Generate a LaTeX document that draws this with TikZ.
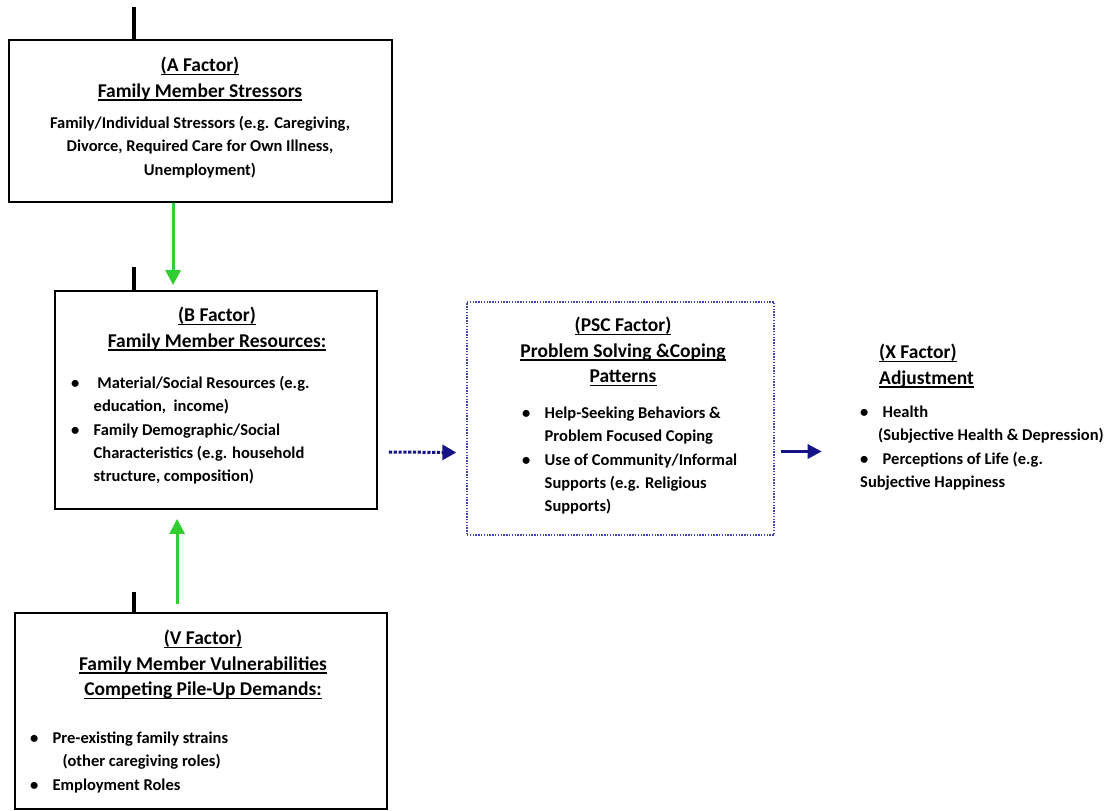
\documentclass[tikz,border=0pt]{standalone}
\usepackage{fontspec}
\setmainfont{Carlito}
\usetikzlibrary{arrows.meta,calc}
\definecolor{grn}{RGB}{50,205,50}
\definecolor{navyb}{RGB}{20,20,135}
\definecolor{dotb}{RGB}{70,70,175}
\newcommand\ulx[1]{\leavevmode\setbox0\hbox{#1}\rlap{\raisebox{-3.8pt}{\rule{\wd0}{1.6pt}}}\box0}
\newcommand\bul{\makebox[22.5pt][l]{\textbullet}}
\newcommand\hang{\hspace*{22.5pt}}
\newcommand\ph{\vphantom{(}}
\tikzset{
  box/.style={draw=black, line width=1.8pt, inner sep=0pt},
  psc/.style={draw=dotb, line width=1.4pt, dash pattern=on 1.4pt off 1.4pt, inner sep=0pt},
  ttl/.style={inner sep=0pt, font=\fontsize{19.5}{25.5}\selectfont\bfseries, text=black},
  txt/.style={inner sep=0pt, font=\fontsize{16.5}{23.3}\selectfont\bfseries, text=black},
  tick/.style={line width=3.5pt, black},
  garrow/.style={draw=grn, line width=3pt, -{Triangle[length=15pt,width=15pt]}},
}
\begin{document}
\begin{tikzpicture}[x=1pt,y=-1pt]
\useasboundingbox (0,0) rectangle (1120,811);
% boxes
\node[box, minimum width=383, minimum height=162] (A) at (200.5,121) {};
\node[box, minimum width=322, minimum height=218] (B) at (216,400) {};
\node[box, minimum width=372, minimum height=196] (V) at (201,711) {};
\node[psc, minimum width=307, minimum height=233] (P) at (620.5,418.5) {};
% ticks
\coordinate (ta) at ($(A.north west)+(126,-32)$);
\coordinate (tb) at ($(B.north west)+(80,-23)$);
\coordinate (tv) at ($(V.north west)+(120,-20)$);
\draw[tick] (ta) -- (ta |- A.north);
\draw[tick] (tb) -- (tb |- B.north);
\draw[tick] (tv) -- (tv |- V.north);
% A text
\node[ttl, align=center, anchor=north] (At) at (200,57)
 {\ph\ulx{(A Factor)}\\\ulx{Family Member Stressors}};
\node[txt, align=center, anchor=north] (Ab) at (200,116)
 {\ph Family/Individual Stressors (e.g. Caregiving,\\Divorce, Required Care for Own Illness,\\Unemployment)};
% B text
\node[ttl, align=center, anchor=north] (Bt) at (217,307)
 {\ph\ulx{(B Factor)}\\\ulx{Family Member Resources:}};
\node[txt, align=left, anchor=north west] (Bb) at (71,376)
 {\ph\bul\ Material/Social Resources (e.g.\\\hang education,\ \ income)\\\bul Family Demographic/Social\\\hang Characteristics (e.g. household\\\hang structure, composition)};
% V text
\node[ttl, align=center, anchor=north] (Vt) at (203,630)
 {\ph\ulx{(V Factor)}\\\ulx{Family Member Vulnerabilities}\\\ulx{Competing Pile-Up Demands:}};
\node[txt, align=left, anchor=north west] (Vb) at (30,731)
 {\ph\bul Pre-existing family strains\\\hang\hspace*{10pt}(other caregiving roles)\\\bul Employment Roles};
% PSC text
\node[ttl, align=center, anchor=north] (Pt) at (623,317)
 {\ph\ulx{(PSC Factor)}\\\ulx{Problem Solving \&Coping}\\\ulx{Patterns}};
\node[txt, align=left, anchor=north west] (Pb) at (522,406)
 {\ph\bul Help-Seeking Behaviors \&\\\hang Problem Focused Coping\\\bul Use of Community/Informal\\\hang Supports (e.g. Religious\\\hang Supports)};
% X text
\node[ttl, align=left, anchor=north west] (Xt) at (879,344)
 {\ph\ulx{(X Factor)}\\\ulx{Adjustment}};
\node[txt, align=left, anchor=north west] (Xb) at (860,405)
 {\ph\bul Health\\\hspace*{18pt}(Subjective Health \& Depression)\\\bul Perceptions of Life (e.g.\\Subjective Happiness};
% arrows
\draw[garrow] ($(A.south west)+(165,0)$) -- ($(B.north west)+(119,-5)$);
\draw[garrow] ($(V.north west)+(163,-8)$) -- ($(B.south west)+(123,9)$);
\draw[navyb, line width=3pt, dash pattern=on 3.2pt off 1.6pt, -{Triangle[length=14pt,width=15pt]}]
  ($(B.east)+(11,52)$) -- ($(P.west)+(-10,34)$);
\draw[navyb, line width=3pt, -{Triangle[length=14pt,width=14pt]}]
  ($(P.east)+(6,33)$) -- ($(P.east)+(47,33)$);
\end{tikzpicture}
\end{document}
